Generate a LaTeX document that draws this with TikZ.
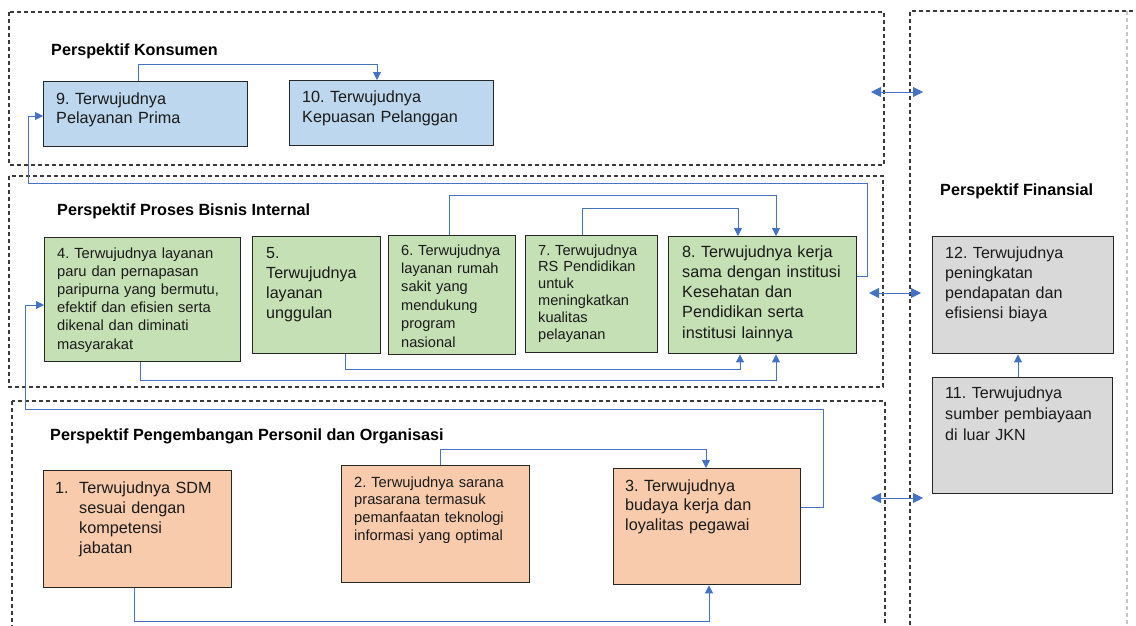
\documentclass[tikz,border=0pt]{standalone}
\usepackage{fontspec}
\setmainfont{Liberation Sans}
\usetikzlibrary{arrows.meta}
\definecolor{lineblue}{HTML}{4472C4}
\definecolor{bluefill}{HTML}{BDD7EE}
\definecolor{greenfill}{HTML}{C5E0B4}
\definecolor{peachfill}{HTML}{F8CBAD}
\definecolor{grayfill}{HTML}{D9D9D9}
\definecolor{boxline}{HTML}{262626}
\definecolor{txtcol}{HTML}{1A1A1A}
\definecolor{framecol}{HTML}{3A3A3A}
\frenchspacing
\begin{document}
\begin{tikzpicture}[x=1pt,y=-1pt,
  dframe/.style={draw=framecol, line width=1.2pt, dash pattern=on 4pt off 3pt},
  box/.style={draw=boxline, line width=1.4pt, anchor=north west, inner sep=0pt},
  txt/.style={anchor=base west, align=left, text width=260pt, inner sep=0pt, text=txtcol},
  ttl/.style={anchor=base west, inner sep=0pt, text=black, font=\fontsize{16.2}{19}\selectfont\bfseries},
  conn/.style={draw=lineblue, line width=0.9pt},
  arr/.style={conn, -{Triangle[length=8pt,width=8pt]}},
  dbl/.style={conn, {Triangle[length=10pt,width=10pt]}-{Triangle[length=10pt,width=10pt]}}
]
\useasboundingbox (0,0) rectangle (1136,625);
\clip (0,0) rectangle (1136,625);
\fill[white] (0,0) rectangle (1136,625);

% frames
\draw[dframe] (9,12) rectangle (884,165);
\draw[dframe] (9,176) rectangle (883,387);
\draw[dframe] (12,401) rectangle (885,660);
\draw[dframe] (910,660) -- (910,11) -- (1140,11);
\draw[dframe, draw=gray!45] (1127,11) -- (1127,660);

% titles
\node[ttl] (h1) at (51,55) {Perspektif Konsumen};
\node[ttl] (h2) at (57,215) {Perspektif Proses Bisnis Internal};
\node[ttl] (h3) at (50,440) {Perspektif Pengembangan Personil dan Organisasi};
\node[ttl] (h4) at (940,195) {Perspektif Finansial};

% boxes
\node[box, fill=bluefill, minimum width=204pt, minimum height=65pt] (b9) at (43,81) {};
\node[box, fill=bluefill, minimum width=204pt, minimum height=65pt] (b10) at (289,80) {};
\node[box, fill=greenfill, minimum width=196pt, minimum height=124pt] (b4) at (44,237) {};
\node[box, fill=greenfill, minimum width=128pt, minimum height=117pt] (b5) at (252,236) {};
\node[box, fill=greenfill, minimum width=127pt, minimum height=119pt] (b6) at (388,235) {};
\node[box, fill=greenfill, minimum width=132pt, minimum height=117pt] (b7) at (525,235) {};
\node[box, fill=greenfill, minimum width=188pt, minimum height=117pt] (b8) at (668,236) {};
\node[box, fill=grayfill, minimum width=181pt, minimum height=117pt] (b12) at (932,236) {};
\node[box, fill=grayfill, minimum width=180pt, minimum height=116pt] (b11) at (932,377) {};
\node[box, fill=peachfill, minimum width=188pt, minimum height=117pt] (b1) at (43,470) {};
\node[box, fill=peachfill, minimum width=188pt, minimum height=117pt] (b2) at (341,465) {};
\node[box, fill=peachfill, minimum width=187pt, minimum height=116pt] (b3) at (613,468) {};

% texts
\node[txt, font=\fontsize{16.2}{19}\selectfont] (t9) at (56,104) {9. Terwujudnya\\Pelayanan Prima};
\node[txt, font=\fontsize{16.2}{20}\selectfont] (t10) at (302,102) {10. Terwujudnya\\Kepuasan Pelanggan};
\node[txt, font=\fontsize{14.7}{18.2}\selectfont] (t4) at (57,258) {4. Terwujudnya layanan\\paru dan pernapasan\\paripurna yang bermutu,\\efektif dan efisien serta\\dikenal dan diminati\\masyarakat};
\node[txt, font=\fontsize{16.1}{20}\selectfont] (t5) at (266,258) {5.\\Terwujudnya\\layanan\\unggulan};
\node[txt, font=\fontsize{14.6}{18.4}\selectfont] (t6) at (401,255) {6. Terwujudnya\\layanan rumah\\sakit yang\\mendukung\\program\\nasional};
\node[txt, font=\fontsize{14.6}{16.8}\selectfont] (t7) at (538,255) {7. Terwujudnya\\RS Pendidikan\\untuk\\meningkatkan\\kualitas\\pelayanan};
\node[txt, font=\fontsize{16.2}{20.3}\selectfont] (t8) at (682,257) {8. Terwujudnya kerja\\sama dengan institusi\\Kesehatan dan\\Pendidikan serta\\institusi lainnya};
\node[txt, font=\fontsize{16.1}{20.3}\selectfont] (t12) at (945,258) {12. Terwujudnya\\peningkatan\\pendapatan dan\\efisiensi biaya};
\node[txt, font=\fontsize{16.1}{21}\selectfont] (t11) at (945,398) {11. Terwujudnya\\sumber pembiayaan\\di luar JKN};
\node[txt, font=\fontsize{16.2}{20}\selectfont] (t1) at (55,493) {\makebox[24pt][l]{1.}Terwujudnya SDM\\\hspace*{24pt}sesuai dengan\\\hspace*{24pt}kompetensi\\\hspace*{24pt}jabatan};
\node[txt, font=\fontsize{14.7}{17.7}\selectfont] (t2) at (354,487) {2. Terwujudnya sarana\\prasarana termasuk\\pemanfaatan teknologi\\informasi yang optimal};
\node[txt, font=\fontsize{16.2}{19.5}\selectfont] (t3) at (625,491) {3. Terwujudnya\\budaya kerja dan\\loyalitas pegawai};

% connectors
\draw[arr] (138,0 |- b9.north) -- (138,64) -- (377,64) -- (377,0 |- b10.north);
\draw[arr] (b8.east |- 0,276) -- (867,276) -- (867,183) -- (28,183) -- (28,116) -- (b9.west |- 0,116);
\draw[arr] (449,0 |- b6.north) -- (449,195) -- (776,195) -- (776,0 |- b8.north);
\draw[arr] (582,0 |- b7.north) -- (582,208) -- (738,208) -- (738,0 |- b8.north);
\draw[arr] (345,0 |- b5.south) -- (345,369) -- (740,369) -- (740,0 |- b8.south);
\draw[arr] (140,0 |- b4.south) -- (140,380) -- (776,380) -- (776,0 |- b8.south);
\draw[arr] (440,0 |- b2.north) -- (440,449) -- (706,449) -- (706,0 |- b3.north);
\draw[arr] (134,0 |- b1.south) -- (134,621) -- (709,621) -- (709,0 |- b3.south);
\draw[arr] (b3.east |- 0,507) -- (823,507) -- (823,409) -- (25,409) -- (25,305) -- (b4.west |- 0,305);
\draw[arr] (1018,0 |- b11.north) -- (1018,0 |- b12.south);

% links between perspectives
\coordinate (k1) at (871,92);
\coordinate (k2) at (923,92);
\coordinate (p1) at (869,293);
\coordinate (p2) at (921,293);
\coordinate (o1) at (871,498);
\coordinate (o2) at (923,498);
\draw[dbl] (k1) -- (k2);
\draw[dbl] (p1) -- (p2);
\draw[dbl] (o1) -- (o2);
\end{tikzpicture}
\end{document}
